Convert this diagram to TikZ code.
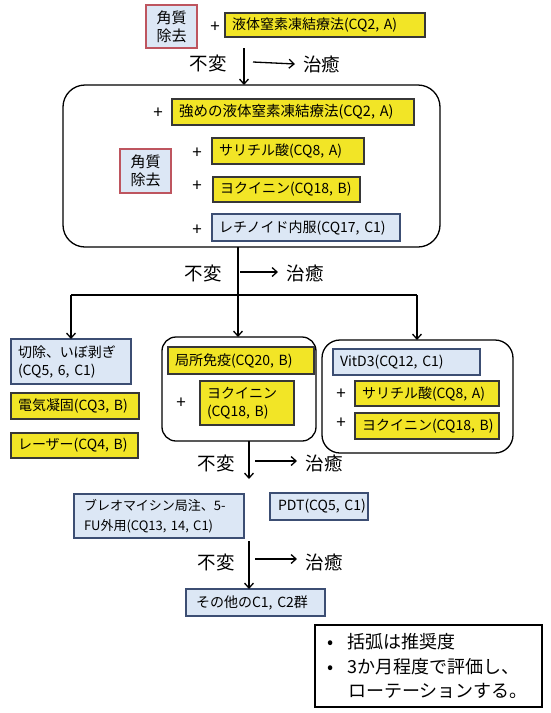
\documentclass[tikz,border=0pt]{standalone}
\usepackage{fontspec}
\setmainfont{Noto Sans CJK JP}
\usetikzlibrary{arrows.meta}
\definecolor{yfill}{RGB}{242,229,38}
\definecolor{ydraw}{RGB}{55,55,55}
\definecolor{bfill}{RGB}{220,231,245}
\definecolor{bdraw}{RGB}{60,78,115}
\definecolor{kdraw}{RGB}{190,85,95}
\tikzset{
  base/.style={anchor=north west, outer sep=0pt, inner xsep=7pt, inner ysep=0pt,
    align=left, font=\fontsize{14}{18}\selectfont, line width=1.6pt},
  ybox/.style={base, draw=ydraw, fill=yfill},
  bbox/.style={base, draw=bdraw, fill=bfill},
  kbox/.style={base, draw=kdraw, fill=bfill, inner xsep=0pt, align=center,
    font=\fontsize{15}{18}\selectfont},
  rbox/.style={draw=black, line width=1.3pt, anchor=north west, outer sep=0pt, inner sep=0pt},
  arr/.style={line width=1.3pt, -{Straight Barb[length=5pt,width=9pt]}},
  big/.style={font=\fontsize{18.5}{20}\selectfont, inner sep=0pt},
  plus/.style={font=\fontsize{17}{17}\selectfont, inner sep=0pt},
  note/.style={draw=black, line width=1.3pt, anchor=north west, outer sep=0pt,
    inner xsep=12pt, inner ysep=0pt, align=left, font=\fontsize{18}{24.5}\selectfont}
}
\begin{document}
\begin{tikzpicture}[x=1pt,y=-1pt]
\useasboundingbox (0,0) rectangle (550,713);
% top row
\node[kbox, minimum width=51pt, minimum height=43pt] (k1) at (146,5) {角質\\除去};
\node[plus] (p1) at (215,27) {+};
\node[ybox, text width=186pt, minimum height=24pt] (a1) at (225,13) {液体窒素凍結療法(CQ2,~A)};
\node[big] (nc1) at (208,63) {不変};
\node[big, anchor=west] (cu1) at (303,64) {治癒};
\coordinate (s1) at (244,48);
\coordinate (h1) at (253,62);
% big rounded box
\node[rbox, rounded corners=22pt, minimum width=377pt, minimum height=162pt] (bigbox) at (63,85) {};
\draw[arr] (s1) -- (s1 |- bigbox.north);
\draw[arr] (h1) -- (cu1.west -| 295,0);
\node[plus] (p2) at (158,113) {+};
\node[ybox, font=\fontsize{14.5}{18}\selectfont, text width=228pt, minimum height=26pt] (a2) at (172,99) {強めの液体窒素凍結療法(CQ2,~A)};
\node[kbox, minimum width=51pt, minimum height=44pt] (k2) at (120,149) {角質\\除去};
\node[plus] (p3) at (197,153) {+};
\node[ybox, text width=138pt, minimum height=26pt] (a3) at (212,138) {サリチル酸(CQ8,~A)};
\node[plus] (p4) at (197,186) {+};
\node[ybox, text width=133pt, minimum height=25pt] (a4) at (213,177) {ヨクイニン(CQ18,~B)};
\node[plus] (p5) at (197,230) {+};
\node[bbox, text width=174pt, minimum height=27pt] (a5) at (212,214) {レチノイド内服(CQ17,~C1)};
% second decision
\node[big] (nc2) at (203,273) {不変};
\node[big] (cu2) at (305,273) {治癒};
\coordinate (t0) at (238,247);
\coordinate (h2) at (240,272);
\draw[arr] (h2) -- (278,272);
% left column
\node[bbox, text width=106pt, minimum height=45pt] (l1) at (11,339) {切除、いぼ剥ぎ\\(CQ5,~6,~C1)};
\node[ybox, text width=114pt, minimum height=26pt] (l2) at (11,393) {電気凝固(CQ3,~B)};
\node[ybox, text width=113pt, minimum height=25pt] (l3) at (11,433) {レーザー(CQ4,~B)};
% middle
\node[rbox, rounded corners=14pt, minimum width=154pt, minimum height=104pt] (mid) at (162,337) {};
\node[ybox, text width=132pt, minimum height=27pt] (m1) at (168,347) {局所免疫(CQ20,~B)};
\node[plus] (p6) at (181,403) {+};
\node[ybox, text width=80pt, minimum height=44pt] (m2) at (200,381) {ヨクイニン\\(CQ18,~B)};
% right
\node[rbox, rounded corners=18pt, minimum width=191pt, minimum height=113pt] (rt) at (322,340) {};
\node[bbox, text width=133pt, minimum height=26pt] (r1) at (333,349) {VitD3(CQ12,~C1)};
\node[plus] (p7) at (341,394) {+};
\node[ybox, text width=130pt, minimum height=25pt] (r2) at (355,381) {サリチル酸(CQ8,~A)};
\node[plus] (p8) at (341,423) {+};
\node[ybox, text width=130pt, minimum height=26pt] (r3) at (355,413) {ヨクイニン(CQ18,~B)};
% branches
\coordinate (jL) at (71,295);
\coordinate (jR) at (417,295);
\draw[line width=1.3pt] (t0 |- bigbox.south) -- (238,295);
\draw[arr] (238,295) -- (238,0 |- mid.north);
\draw[line width=1.3pt] (jL) -- (jR);
\draw[arr] (jL) -- (jL |- l1.north);
\draw[arr] (jR) -- (jR |- rt.north);
% third decision
\node[big] (nc3) at (216,463) {不変};
\node[big] (cu3) at (324,463) {治癒};
\node[bbox, font=\fontsize{13}{20}\selectfont, inner xsep=10pt, text width=150pt, minimum height=44pt] (b1) at (74,494) {ブレオマイシン局注、5-\\FU外用(CQ13,~14,~C1)};
\node[bbox, inner xsep=8pt, text width=82pt, minimum height=27pt] (b2) at (270,493) {PDT(CQ5,~C1)};
\coordinate (v3) at (249,0);
\draw[arr] (v3 |- mid.south) -- (249,479);
\draw[arr] (255,461) -- (297,461);
% fourth decision
\node[big] (nc4) at (216,562) {不変};
\node[big] (cu4) at (324,562) {治癒};
\node[bbox, inner xsep=10pt, text width=119pt, minimum height=27pt] (c1) at (186,589) {その他のC1,~C2群};
\draw[arr] (249,541) -- (v3 |- c1.north);
\draw[arr] (255,559) -- (297,559);
% note
\node[note, text width=203pt, minimum height=82pt] (nt) at (315,625)
  {\makebox[21pt][l]{•}括弧は推奨度\\\makebox[21pt][l]{•}3か月程度で評価し、\\\makebox[21pt][l]{}ローテーションする。};
\end{tikzpicture}
\end{document}
